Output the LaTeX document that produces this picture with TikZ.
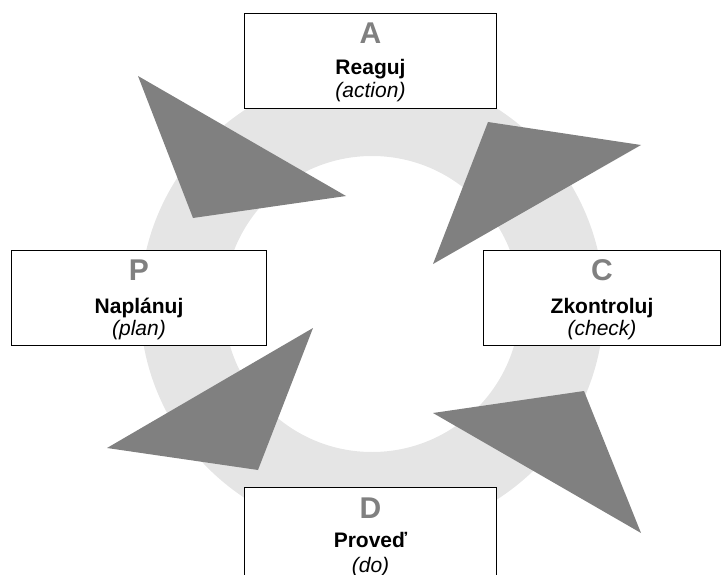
\documentclass[tikz,border=0pt]{standalone}
\usepackage{fontspec}
\setmainfont{Liberation Sans}
\definecolor{ringgray}{HTML}{E5E5E5}
\definecolor{trigray}{HTML}{808080}
\definecolor{lettergray}{HTML}{808080}
\begin{document}
\begin{tikzpicture}[x=1pt,y=-1pt,
  pdcabox/.style={draw=black, line width=1pt, fill=white, rectangle, minimum width=252pt, minimum height=95pt, inner sep=0pt, anchor=north west},
  lettertxt/.style={font=\fontsize{30}{30}\selectfont\bfseries, text=lettergray, anchor=base, inner sep=0pt},
  nametxt/.style={font=\fontsize{21}{21}\selectfont\bfseries, anchor=base, inner sep=0pt},
  subtxt/.style={font=\fontsize{21}{21}\selectfont\itshape, anchor=base, inner sep=0pt},
  tri/.style={fill=trigray}
]
\useasboundingbox (0,0) rectangle (723,575);
\clip (0,0) rectangle (723,575);
% ring
\fill[ringgray, even odd rule] (372,304) circle[radius=232pt] (372,304) circle[radius=148pt];
% boxes
\node[pdcabox] (A) at (244,13) {};
\node[pdcabox, minimum width=255pt] (P) at (11,250) {};
\node[pdcabox, minimum width=237pt] (C) at (483,250) {};
\node[pdcabox, minimum height=120pt] (D) at (244,487) {};
% texts
\node[lettertxt] (Al) at ([yshift=-31pt]A.north) {A};
\node[nametxt] (An) at ([yshift=-62pt]A.north) {Reaguj};
\node[subtxt] (As) at ([yshift=-85pt]A.north) {(action)};
\node[lettertxt] (Pl) at ([yshift=-30pt]P.north) {P};
\node[nametxt] (Pn) at ([yshift=-63pt]P.north) {Naplánuj};
\node[subtxt] (Ps) at ([yshift=-85pt]P.north) {(plan)};
\node[lettertxt] (Cl) at ([yshift=-30pt]C.north) {C};
\node[nametxt] (Cn) at ([yshift=-63pt]C.north) {Zkontroluj};
\node[subtxt] (Cs) at ([yshift=-85pt]C.north) {(check)};
\node[lettertxt] (Dl) at ([yshift=-31pt]D.north) {D};
\node[nametxt] (Dn) at ([yshift=-60pt]D.north) {Proveď};
\node[subtxt] (Ds) at ([yshift=-85pt]D.north) {(do)};
% triangles
\fill[tri] (138,76) -- (346,196) -- (193,218) -- cycle;
\fill[tri] (488,122) -- (641,145) -- (433,264) -- cycle;
\fill[tri] (433,413) -- (584,391) -- (641,533) -- cycle;
\fill[tri] (313,328) -- (258,470) -- (107,448) -- cycle;
\end{tikzpicture}
\end{document}
